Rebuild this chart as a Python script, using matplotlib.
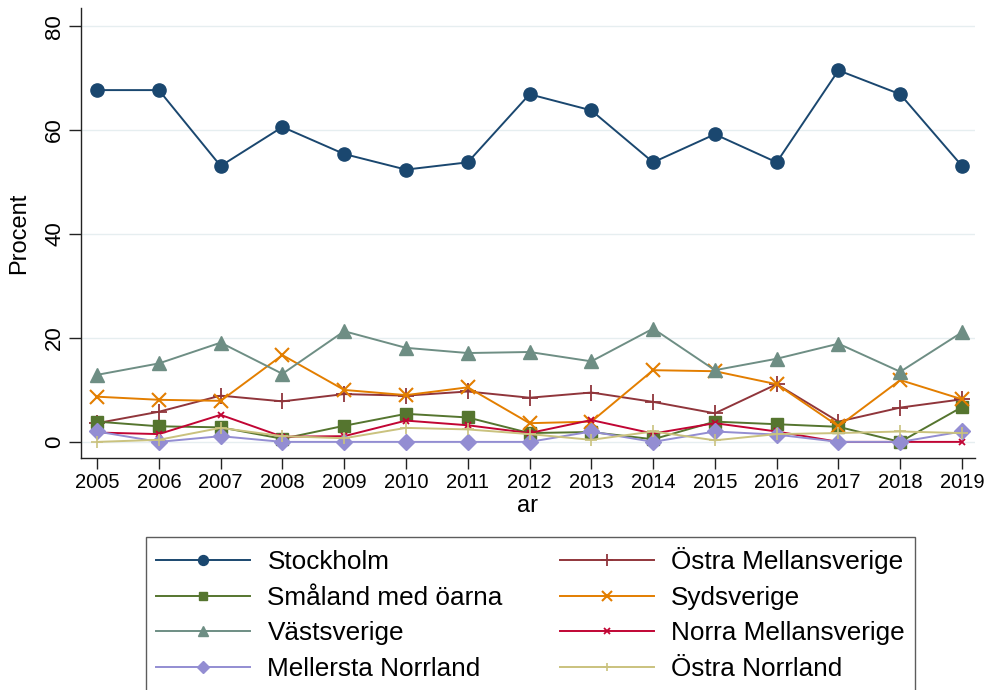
import matplotlib
matplotlib.use("Agg")
import matplotlib.pyplot as plt

plt.rcParams['font.family'] = ['Liberation Sans', 'DejaVu Sans']

years = list(range(2005, 2020))
stockholm = [67.7, 67.7, 53.1, 60.6, 55.4, 52.4, 53.8, 66.9, 63.8, 53.8, 59.2, 53.8, 71.5, 66.9, 53.1]
ostra_mellansverige = [3.6, 5.8, 8.9, 7.8, 9.2, 8.9, 9.7, 8.5, 9.5, 7.7, 5.5, 11.1, 3.9, 6.6, 8.2]
smaland = [3.9, 3.0, 2.8, 0.6, 3.1, 5.4, 4.7, 1.7, 1.9, 0.5, 3.9, 3.4, 2.9, 0.0, 6.7]
sydsverige = [8.7, 8.1, 7.9, 16.7, 10.0, 9.0, 10.5, 3.6, 3.9, 13.8, 13.6, 11.1, 3.0, 11.9, 8.2]
vastsverige = [12.9, 15.1, 19.1, 13.1, 21.3, 18.1, 17.1, 17.3, 15.5, 21.8, 13.8, 16.0, 18.9, 13.5, 21.1]
norra_mellansverige = [1.8, 1.5, 5.2, 1.0, 1.1, 4.1, 3.2, 1.7, 4.2, 1.6, 3.6, 2.0, 0.0, 0.0, 0.0]
mellersta_norrland = [2.0, 0.0, 1.1, 0.0, 0.0, 0.0, 0.0, 0.0, 2.0, 0.0, 2.0, 1.4, 0.0, 0.0, 2.0]
ostra_norrland = [0.0, 0.4, 2.7, 1.1, 0.7, 2.7, 2.4, 1.5, 0.4, 2.0, 0.3, 1.5, 1.7, 2.0, 1.7]

y_ticks = [0, 20, 40, 60, 80]

fig = plt.figure(figsize=(9.85, 6.9), dpi=100)
ax = fig.add_axes([81/985, 1-458/690, (975-81)/985, (458-8)/690])

series = [
    ("Stockholm", stockholm, "#1a476f", "o", 9.5, 1.0),
    ("Östra Mellansverige", ostra_mellansverige, "#90353b", "+", 11, 1.3),
    ("Småland med öarna", smaland, "#55752f", "s", 8, 1.0),
    ("Sydsverige", sydsverige, "#e37e00", "x", 10, 1.5),
    ("Västsverige", vastsverige, "#6e8e84", "^", 10, 1.0),
    ("Norra Mellansverige", norra_mellansverige, "#c10534", "x", 5, 1.3),
    ("Mellersta Norrland", mellersta_norrland, "#938dd2", "D", 8, 1.0),
    ("Östra Norrland", ostra_norrland, "#cac27e", "+", 8, 1.2),
]

handles = {}
for name, vals, col, mk, ms, mew in series:
    h, = ax.plot(years, vals, color=col, marker=mk, markersize=ms,
                 markeredgewidth=mew, linewidth=1.4, label=name,
                 markerfacecolor=col, markeredgecolor=col)
    handles[name] = h

ax.set_xlim(2004.74, 2019.21)
ax.set_ylim(-3.1, 83.5)
ax.set_yticks(y_ticks)
ax.set_xticks(years)
ax.grid(axis='y', color='#e6eef0', linewidth=1.0)
ax.set_axisbelow(True)
for s in ['top', 'right']:
    ax.spines[s].set_visible(False)
for s in ['left', 'bottom']:
    ax.spines[s].set_color('#222222')
    ax.spines[s].set_linewidth(1.0)
ax.tick_params(axis='y', length=8.5, width=1.0, labelsize=16, color='#222222', pad=3)
ax.tick_params(axis='x', length=8, width=1.0, labelsize=14.5, color='#222222', pad=3)
for lab in ax.get_yticklabels():
    lab.set_rotation(90)
    lab.set_va('center')
ax.set_ylabel("Procent", fontsize=17, labelpad=10)
ax.set_xlabel("ar", fontsize=17, labelpad=2)

order = ["Stockholm", "Småland med öarna", "Västsverige", "Mellersta Norrland",
         "Östra Mellansverige", "Sydsverige", "Norra Mellansverige", "Östra Norrland"]
leg = fig.legend([handles[n] for n in order], order, ncol=2, fontsize=18.8,
                 loc='upper left', bbox_to_anchor=(146/985, 1-537/690),
                 borderaxespad=0.0,
                 frameon=True, fancybox=False, edgecolor='#333333',
                 handlelength=3.6, handletextpad=0.65, columnspacing=2.2,
                 labelspacing=0.44, markerscale=0.75, borderpad=0.4)
leg.get_frame().set_linewidth(1.0)

fig.savefig("out.png", dpi=100)
